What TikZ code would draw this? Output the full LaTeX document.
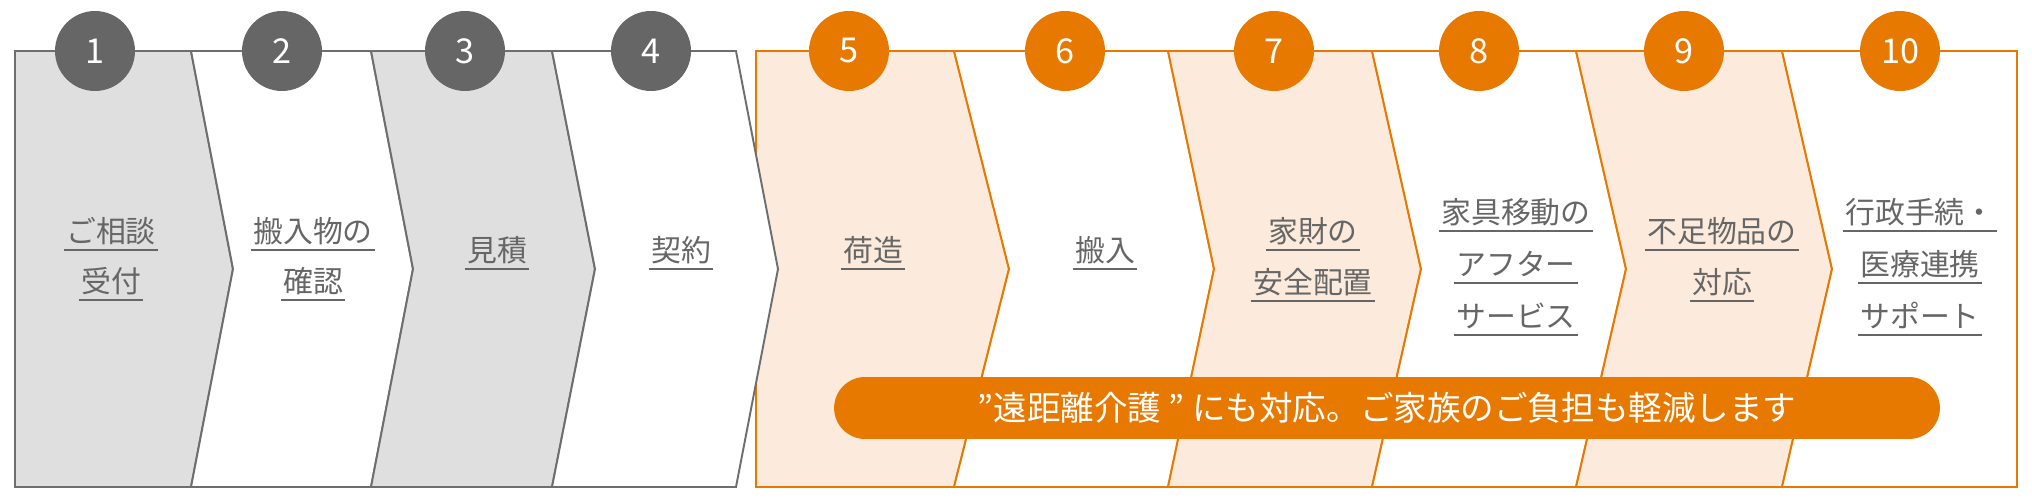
\documentclass[tikz,border=0pt]{standalone}
\usepackage{fontspec}
\newfontfamily\jp{Noto Sans CJK JP}
\usetikzlibrary{positioning}
\definecolor{og}{RGB}{231,121,0}
\definecolor{ogl}{RGB}{252,235,220}
\definecolor{gy}{RGB}{102,102,102}
\definecolor{gyl}{RGB}{223,223,223}
\definecolor{gyline}{RGB}{110,110,110}
\tikzset{
  chevgray/.style={draw=gyline, line width=1.1pt},
  chevorange/.style={draw=og, line width=1.1pt},
  numgray/.style={circle, fill=gy, minimum size=1.6cm, inner sep=0pt,
    text=white, font=\jp\fontsize{19.5pt}{20pt}\selectfont},
  numorange/.style={numgray, fill=og},
  steptext/.style={text=gy, font=\jp\fontsize{17pt}{20pt}\selectfont,
    text height=13.2pt, text depth=0.3pt, inner xsep=1.2pt, inner ysep=3.7pt},
  uline/.style={draw=gy, line width=1.1pt},
  pill/.style={fill=og, text=white, rounded corners=0.62cm,
    minimum width=22.12cm, minimum height=1.24cm, inner sep=0pt,
    font=\jp\fontsize{19.1pt}{21pt}\selectfont}
}
\begin{document}
\begin{tikzpicture}[x=0.02cm,y=-0.02cm]
\useasboundingbox (0,0) rectangle (2032,500);
% orange part
\filldraw[chevorange, fill=ogl] (756,51) -- (954,51) -- (1009,269) -- (954,487) -- (756,487) -- cycle;
\filldraw[chevorange, fill=white] (954,51) -- (1168,51) -- (1214,269) -- (1168,487) -- (954,487) -- (1009,269) -- cycle;
\filldraw[chevorange, fill=ogl] (1168,51) -- (1372,51) -- (1421,269) -- (1372,487) -- (1168,487) -- (1214,269) -- cycle;
\filldraw[chevorange, fill=white] (1372,51) -- (1576,51) -- (1626,269) -- (1576,487) -- (1372,487) -- (1421,269) -- cycle;
\filldraw[chevorange, fill=ogl] (1576,51) -- (1782,51) -- (1832,269) -- (1782,487) -- (1576,487) -- (1626,269) -- cycle;
\filldraw[chevorange, fill=white] (1782,51) -- (2017,51) -- (2017,487) -- (1782,487) -- (1832,269) -- cycle;
% gray part
\filldraw[chevgray, fill=gyl] (15,51) -- (191,51) -- (233,269) -- (191,487) -- (15,487) -- cycle;
\filldraw[chevgray, fill=white] (191,51) -- (371,51) -- (413,269) -- (371,487) -- (191,487) -- (233,269) -- cycle;
\filldraw[chevgray, fill=gyl] (371,51) -- (552,51) -- (595,269) -- (552,487) -- (371,487) -- (413,269) -- cycle;
\filldraw[chevgray, fill=white] (552,51) -- (736,51) -- (778,269) -- (736,487) -- (552,487) -- (595,269) -- cycle;
% numbers
\foreach [count=\i] \x in {95,282,465,651}{
\node[numgray] (c\i) at (\x,51) {\i};
}
\foreach [count=\i from 5] \x in {849,1065,1274,1479,1684,1900}{
\node[numorange] (c\i) at (\x,51) {\i};
}
% note
\node[pill] (note) at (1387,408) {”遠距離介護 ” にも対応。ご家族のご負担も軽減します};
% step texts
\node[steptext] (t1a) at (111,231) {ご相談};
\node[steptext] (t1b) at (111,281) {受付};
\node[steptext] (t2a) at (313,231) {搬入物の};
\node[steptext] (t2b) at (313,281) {確認};
\node[steptext] (t3) at (497,250) {見積};
\node[steptext] (t4) at (681,250) {契約};
\node[steptext] (t5) at (873,250) {荷造};
\node[steptext] (t6) at (1105,250) {搬入};
\node[steptext] (t7a) at (1313,231) {家財の};
\node[steptext] (t7b) at (1313,282) {安全配置};
\node[steptext] (t8a) at (1516,212) {家具移動の};
\node[steptext] (t8b) at (1516,264) {アフター};
\node[steptext] (t8c) at (1516,316) {サービス};
\node[steptext] (t9a) at (1722,231) {不足物品の};
\node[steptext] (t9b) at (1722,282) {対応};
\node[steptext] (t10a) at (1920,212) {行政手続・};
\node[steptext] (t10b) at (1920,264) {医療連携};
\node[steptext] (t10c) at (1920,316) {サポート};
\foreach \n in {t1a,t1b,t2a,t2b,t3,t4,t5,t6,t7a,t7b,t8a,t8b,t8c,t9a,t9b,t10a,t10b,t10c}{
\draw[uline] (\n.south west) -- (\n.south east);
}
\end{tikzpicture}
\end{document}
